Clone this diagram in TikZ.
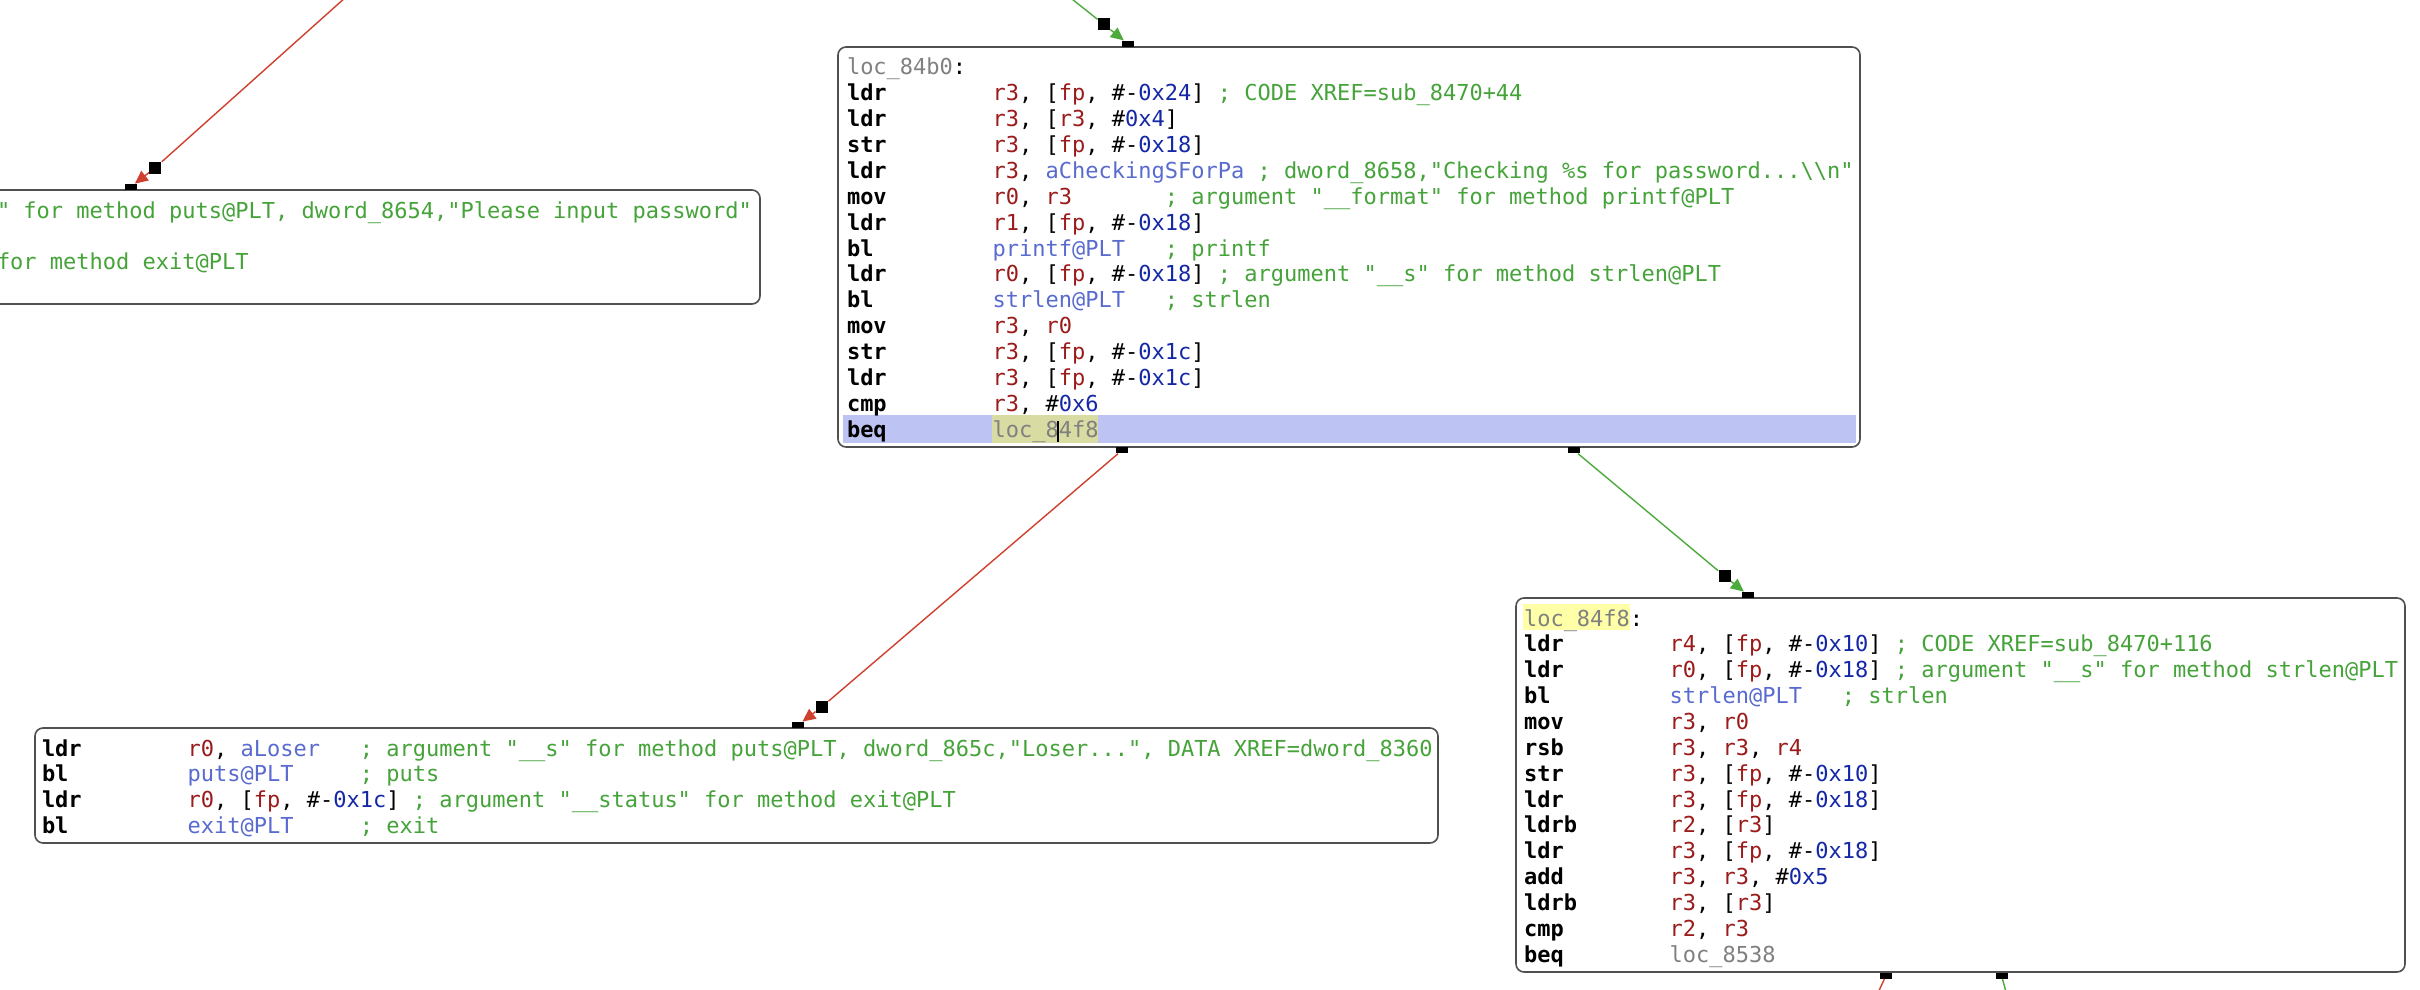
\documentclass[tikz,border=0pt]{standalone}
\usepackage{fontspec}
\setmonofont{DejaVu Sans Mono}
\usetikzlibrary{arrows.meta,fit}
\definecolor{reg}{HTML}{9B1B1B}
\definecolor{num}{HTML}{1428A6}
\definecolor{sym}{HTML}{5A6BCF}
\definecolor{cmt}{HTML}{45A33A}
\definecolor{lbl}{HTML}{808080}
\definecolor{hlblue}{HTML}{BDC3F3}
\definecolor{hlyel}{HTML}{D8DBA2}
\definecolor{hlyel2}{HTML}{FFFFA8}
\definecolor{egreen}{HTML}{4DAA3C}
\definecolor{ered}{HTML}{D0402F}
\definecolor{border}{HTML}{505050}
\newlength\cw
\newcommand\codefont{\ttfamily\fontsize{11pt}{12.93pt}\selectfont\frenchspacing}
\AtBeginDocument{\settowidth{\cw}{\codefont 0}}
\newcommand\R[1]{\textcolor{reg}{#1}}
\newcommand\N[1]{\textcolor{num}{#1}}
\newcommand\Sy[1]{\textcolor{sym}{#1}}
\newcommand\Cm[1]{\textcolor{cmt}{#1}}
\newcommand\Lb[1]{\textcolor{lbl}{#1}}
\newcommand\Mn[1]{\makebox[11\cw][l]{\bfseries #1}}
\newcommand\Gap[1]{\hspace*{#1\cw}}
\def\lh{25.86}
\begin{document}
\begin{tikzpicture}[x=0.5pt,y=-0.5pt,
  box/.style={draw=border, line width=0.8pt, rounded corners=4pt, inner sep=0pt},
  code/.style={anchor=base west, inner sep=0pt, outer sep=0pt, font=\codefont},
  bsq/.style={fill=black, draw=none, inner sep=0pt, minimum width=6pt, minimum height=6pt},
  fsq/.style={fill=black, draw=none, inner sep=0pt, minimum width=6pt, minimum height=3pt},
  gedge/.style={draw=egreen, line width=0.7pt},
  redge/.style={draw=ered, line width=0.7pt},
  arrowend/.style={-{Triangle[length=6.5pt,width=6pt]}}]
\useasboundingbox (0,0) rectangle (2420,990);
\fill[white] (0,0) rectangle (2420,990);
\clip (0,0) rectangle (2420,990);

% highlights
\fill[hlblue] (843,415) rectangle (1856,443);
\fill[hlyel] (992,415) rectangle (1098,443);
\fill[hlyel2] (1523,604) rectangle (1630,630);

% boxes
\node[box, fit={(838,47) (1860,447)}] (A) {};
\node[box, fit={(35,728) (1438,843)}] (B) {};
\node[box, fit={(1516,598) (2405,972)}] (C) {};
\node[box, fit={(-40,190) (760,304)}] (D) {};

% box A text
\node[code] (a0) at (847,{75+0*\lh}) {\Lb{loc\_84b0}:};
\node[code] (a1) at (847,{75+1*\lh}) {\Mn{ldr}\R{r3}, [\R{fp}, \#-\N{0x24}] \Cm{; CODE XREF=sub\_8470+44}};
\node[code] (a2) at (847,{75+2*\lh}) {\Mn{ldr}\R{r3}, [\R{r3}, \#\N{0x4}]};
\node[code] (a3) at (847,{75+3*\lh}) {\Mn{str}\R{r3}, [\R{fp}, \#-\N{0x18}]};
\node[code] (a4) at (847,{75+4*\lh}) {\Mn{ldr}\R{r3}, \Sy{aCheckingSForPa} \Cm{; dword\_8658,"Checking \%s for password...\textbackslash\textbackslash n"}};
\node[code] (a5) at (847,{75+5*\lh}) {\Mn{mov}\R{r0}, \R{r3}\Gap{7}\Cm{; argument "\_\_format" for method printf@PLT}};
\node[code] (a6) at (847,{75+6*\lh}) {\Mn{ldr}\R{r1}, [\R{fp}, \#-\N{0x18}]};
\node[code] (a7) at (847,{75+7*\lh}) {\Mn{bl}\Sy{printf@PLT}\Gap{3}\Cm{; printf}};
\node[code] (a8) at (847,{75+8*\lh}) {\Mn{ldr}\R{r0}, [\R{fp}, \#-\N{0x18}] \Cm{; argument "\_\_s" for method strlen@PLT}};
\node[code] (a9) at (847,{75+9*\lh}) {\Mn{bl}\Sy{strlen@PLT}\Gap{3}\Cm{; strlen}};
\node[code] (a10) at (847,{75+10*\lh}) {\Mn{mov}\R{r3}, \R{r0}};
\node[code] (a11) at (847,{75+11*\lh}) {\Mn{str}\R{r3}, [\R{fp}, \#-\N{0x1c}]};
\node[code] (a12) at (847,{75+12*\lh}) {\Mn{ldr}\R{r3}, [\R{fp}, \#-\N{0x1c}]};
\node[code] (a13) at (847,{75+13*\lh}) {\Mn{cmp}\R{r3}, \#\N{0x6}};
\node[code] (a14) at (847,{75+14*\lh}) {\Mn{beq}\Lb{loc\_84f8}};
\draw[line width=0.6pt] (1058,421) -- (1058,442);

% box B text
\node[code] (b1) at (42,{756+0*\lh}) {\Mn{ldr}\R{r0}, \Sy{aLoser}\Gap{3}\Cm{; argument "\_\_s" for method puts@PLT, dword\_865c,"Loser...", DATA XREF=dword\_8360}};
\node[code] (b2) at (42,{756+1*\lh}) {\Mn{bl}\Sy{puts@PLT}\Gap{5}\Cm{; puts}};
\node[code] (b3) at (42,{756+2*\lh}) {\Mn{ldr}\R{r0}, [\R{fp}, \#-\N{0x1c}] \Cm{; argument "\_\_status" for method exit@PLT}};
\node[code] (b4) at (42,{756+3*\lh}) {\Mn{bl}\Sy{exit@PLT}\Gap{5}\Cm{; exit}};

% box C text
\node[code] (c0) at (1524,{626+0*\lh}) {\Lb{loc\_84f8}:};
\node[code] (c1) at (1524,{626+1*\lh}) {\Mn{ldr}\R{r4}, [\R{fp}, \#-\N{0x10}] \Cm{; CODE XREF=sub\_8470+116}};
\node[code] (c2) at (1524,{626+2*\lh}) {\Mn{ldr}\R{r0}, [\R{fp}, \#-\N{0x18}] \Cm{; argument "\_\_s" for method strlen@PLT}};
\node[code] (c3) at (1524,{626+3*\lh}) {\Mn{bl}\Sy{strlen@PLT}\Gap{3}\Cm{; strlen}};
\node[code] (c4) at (1524,{626+4*\lh}) {\Mn{mov}\R{r3}, \R{r0}};
\node[code] (c5) at (1524,{626+5*\lh}) {\Mn{rsb}\R{r3}, \R{r3}, \R{r4}};
\node[code] (c6) at (1524,{626+6*\lh}) {\Mn{str}\R{r3}, [\R{fp}, \#-\N{0x10}]};
\node[code] (c7) at (1524,{626+7*\lh}) {\Mn{ldr}\R{r3}, [\R{fp}, \#-\N{0x18}]};
\node[code] (c8) at (1524,{626+8*\lh}) {\Mn{ldrb}\R{r2}, [\R{r3}]};
\node[code] (c9) at (1524,{626+9*\lh}) {\Mn{ldr}\R{r3}, [\R{fp}, \#-\N{0x18}]};
\node[code] (c10) at (1524,{626+10*\lh}) {\Mn{add}\R{r3}, \R{r3}, \#\N{0x5}};
\node[code] (c11) at (1524,{626+11*\lh}) {\Mn{ldrb}\R{r3}, [\R{r3}]};
\node[code] (c12) at (1524,{626+12*\lh}) {\Mn{cmp}\R{r2}, \R{r3}};
\node[code] (c13) at (1524,{626+13*\lh}) {\Mn{beq}\Lb{loc\_8538}};

% box D text (partly off canvas)
\node[code] (d1) at (-3,{218+0*\lh}) {\Cm{" for method puts@PLT, dword\_8654,"Please input password"}};
\node[code] (d3) at (-3,{218+2*\lh}) {\Cm{for method exit@PLT}};

% edge squares
\node[bsq] (bA) at (1104,24.5) {};
\node[fsq] (eA) at (1128,43.8) {};
\node[fsq] (sAB) at (1122,450.3) {};
\node[bsq] (bAB) at (822,706.7) {};
\node[fsq] (eB) at (798,725) {};
\node[fsq] (sAC) at (1574,450.3) {};
\node[bsq] (bAC) at (1724.5,576) {};
\node[fsq] (eC) at (1748,595) {};
\node[bsq] (bD) at (155.4,167.5) {};
\node[fsq] (eD) at (130.5,187) {};
\node[fsq] (sC1) at (1886,975.5) {};
\node[fsq] (sC2) at (2001.5,975.5) {};
\coordinate (tA) at (1048,-20);
\coordinate (tD) at (365,-20);
\coordinate (fC1) at (1870,1010);
\coordinate (fC2) at (2011,1010);

% connectors
\draw[gedge] (tA) -- (bA);
\draw[gedge, arrowend] (bA) -- (eA);
\draw[redge] (sAB) -- (bAB);
\draw[redge, arrowend] (bAB) -- (eB);
\draw[gedge] (sAC) -- (bAC);
\draw[gedge, arrowend] (bAC) -- (eC);
\draw[redge] (tD) -- (bD);
\draw[redge, arrowend] (bD) -- (eD);
\draw[redge] (sC1) -- (fC1);
\draw[gedge] (sC2) -- (fC2);
\end{tikzpicture}
\end{document}
